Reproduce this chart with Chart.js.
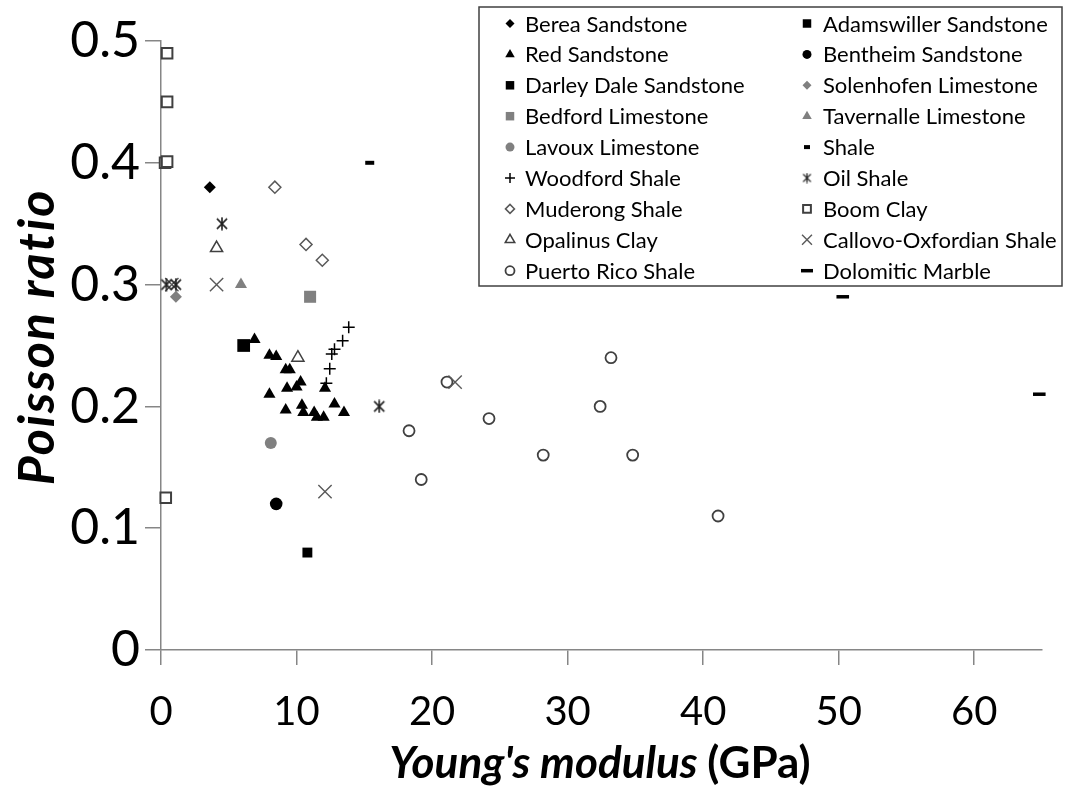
<!DOCTYPE html>
<html>
<head>
<meta charset="utf-8">
<script src="https://cdn.jsdelivr.net/npm/chart.js@4/dist/chart.umd.min.js"></script>
<style>
  html, body { margin: 0; padding: 0; background: #fff; }
  #wrap { width: 1078px; height: 794px; }
</style>
</head>
<body>
<div id="wrap"><canvas id="chart" width="1078" height="794"></canvas></div>
<script>
// Young's modulus (GPa) and Poisson ratio for each rock, as [E, nu] pairs
const bereaSandstone = [[3.6, 0.38]];
const adamswillerSandstone = [[10.8, 0.08]];
const redSandstone = [
  [6.9, 0.255], [8.0, 0.242], [8.5, 0.241], [9.2, 0.230], [9.5, 0.230],
  [8.0, 0.210], [9.3, 0.215], [10.0, 0.216], [10.3, 0.220], [12.1, 0.215],
  [9.2, 0.197], [10.4, 0.201], [10.5, 0.195], [11.3, 0.195], [11.5, 0.191],
  [12.0, 0.191], [12.8, 0.202], [13.5, 0.195]
];
const bentheimSandstone = [[8.5, 0.12]];
const darleyDaleSandstone = [[6.1, 0.25]];
const solenhofenLimestone = [[1.1, 0.29]];
const bedfordLimestone = [[11.0, 0.29]];
const tavernalleLimestone = [[5.9, 0.30]];
const lavouxLimestone = [[8.1, 0.17]];
const shale = [[15.4, 0.40]];
const woodfordShale = [[12.2, 0.219], [12.45, 0.231], [12.6, 0.243], [12.8, 0.247], [13.4, 0.254], [13.85, 0.265]];
const oilShale = [[0.4, 0.30], [1.1, 0.30], [4.5, 0.35], [16.1, 0.20]];
const muderongShale = [[8.4, 0.38], [10.7, 0.333], [11.9, 0.32]];
const boomClay = [[0.45, 0.49], [0.45, 0.45], [0.3, 0.40], [0.45, 0.401], [0.35, 0.125]];
const opalinusClay = [[4.1, 0.33], [10.1, 0.24]];
const callovoOxfordianShale = [[0.8, 0.30], [4.1, 0.30], [12.1, 0.13], [21.7, 0.22]];
const puertoRicoShale = [
  [18.3, 0.18], [19.2, 0.14], [21.1, 0.22], [24.2, 0.19], [28.2, 0.16],
  [32.4, 0.20], [33.2, 0.24], [34.8, 0.16], [41.1, 0.11]
];
const dolomiticMarble = [[50.3, 0.29], [64.8, 0.21]];

const xTicks = [0, 10, 20, 30, 40, 50, 60];
const yTicks = [0, 0.1, 0.2, 0.3, 0.4, 0.5];
const yTickLabels = ['0', '0.1', '0.2', '0.3', '0.4', '0.5'];

// Six-armed asterisk marker drawn onto a small canvas
function asterisk(size, color, lw) {
  const c = document.createElement('canvas');
  c.width = c.height = size;
  const g = c.getContext('2d');
  g.strokeStyle = color;
  g.lineWidth = lw;
  const m = size / 2, r = size / 2 - 0.5, d = r * 0.78;
  g.beginPath();
  g.moveTo(m, m - r); g.lineTo(m, m + r);
  g.moveTo(m - d, m - d); g.lineTo(m + d, m + d);
  g.moveTo(m + d, m - d); g.lineTo(m - d, m + d);
  g.stroke();
  return c;
}

const BLACK = '#000000', GREY = '#808080', DARK = '#404040', MID = '#595959', WHITE = '#ffffff';

// Series in legend order (two columns, filled row by row)
const series = [
  { label: 'Berea Sandstone', data: bereaSandstone, style: 'rectRot', r: 6, fill: BLACK, stroke: BLACK, w: 0, lr: 4.5 },
  { label: 'Adamswiller Sandstone', data: adamswillerSandstone, style: 'rect', r: 7, fill: BLACK, stroke: BLACK, w: 0, lr: 6 },
  { label: 'Red Sandstone', data: redSandstone, style: 'triangle', r: 7, fill: BLACK, stroke: BLACK, w: 0, lr: 5.5 },
  { label: 'Bentheim Sandstone', data: bentheimSandstone, style: 'circle', r: 6.3, fill: BLACK, stroke: BLACK, w: 0, lr: 4.5 },
  { label: 'Darley Dale Sandstone', data: darleyDaleSandstone, style: 'rect', r: 9, fill: BLACK, stroke: BLACK, w: 0, lr: 6 },
  { label: 'Solenhofen Limestone', data: solenhofenLimestone, style: 'rectRot', r: 6, fill: GREY, stroke: GREY, w: 0, lr: 4.5 },
  { label: 'Bedford Limestone', data: bedfordLimestone, style: 'rect', r: 8.5, fill: GREY, stroke: GREY, w: 0, lr: 6 },
  { label: 'Tavernalle Limestone', data: tavernalleLimestone, style: 'triangle', r: 7, fill: GREY, stroke: GREY, w: 0, lr: 5.5 },
  { label: 'Lavoux Limestone', data: lavouxLimestone, style: 'circle', r: 6, fill: GREY, stroke: GREY, w: 0, lr: 4.5 },
  { label: 'Shale', data: shale, style: 'line', r: 4.5, fill: BLACK, stroke: BLACK, w: 4, lr: 3 },
  { label: 'Woodford Shale', data: woodfordShale, style: 'cross', r: 6, fill: BLACK, stroke: BLACK, w: 1.5, lr: 5 },
  { label: 'Oil Shale', data: oilShale, style: asterisk(14, '#202020', 1.6), r: 7, fill: BLACK, stroke: BLACK, w: 1, lr: 5, legendImg: asterisk(11, '#202020', 1.3) },
  { label: 'Muderong Shale', data: muderongShale, style: 'rectRot', r: 6, fill: WHITE, stroke: MID, w: 1.5, lr: 4.5 },
  { label: 'Boom Clay', data: boomClay, style: 'rect', r: 7.5, fill: WHITE, stroke: DARK, w: 2, lr: 5.5 },
  { label: 'Opalinus Clay', data: opalinusClay, style: 'triangle', r: 7, fill: WHITE, stroke: DARK, w: 1.5, lr: 5.5 },
  { label: 'Callovo-Oxfordian Shale', data: callovoOxfordianShale, style: 'crossRot', r: 9.4, fill: MID, stroke: MID, w: 1.4, lr: 7 },
  { label: 'Puerto Rico Shale', data: puertoRicoShale, style: 'circle', r: 5.5, fill: WHITE, stroke: DARK, w: 1.8, lr: 4.5 },
  { label: 'Dolomitic Marble', data: dolomiticMarble, style: 'line', r: 6.3, fill: BLACK, stroke: BLACK, w: 3.5, lr: 6 }
];

const datasets = series.map(s => ({
  label: s.label,
  data: s.data.map(([x, y]) => ({ x, y })),
  pointStyle: s.style,
  pointRadius: s.r,
  pointBackgroundColor: s.fill,
  pointBorderColor: s.stroke,
  pointBorderWidth: s.w,
  showLine: false,
  clip: false
}));

// Boxed two-column key in the upper right
const keyBox = {
  id: 'keyBox',
  afterDraw(chart) {
    const c = chart.ctx;
    c.save();
    c.fillStyle = '#ffffff';
    c.fillRect(479, 7, 583, 279);
    c.strokeStyle = '#404040';
    c.lineWidth = 1.5;
    c.strokeRect(479, 7, 583, 279);
    c.font = '22px Lato';
    c.textBaseline = 'middle';
    c.textAlign = 'left';
    series.forEach((s, i) => {
      const row = Math.floor(i / 2), col = i % 2;
      const y = 23.5 + row * 30.9;
      const mx = col === 0 ? 510 : 807;
      const tx = col === 0 ? 525 : 823;
      c.fillStyle = s.fill;
      c.strokeStyle = s.stroke;
      c.lineWidth = s.w;
      Chart.helpers.drawPoint(c, {
        pointStyle: s.legendImg || s.style,
        radius: s.lr,
        rotation: 0,
        borderWidth: s.w
      }, mx, y);
      c.fillStyle = '#000000';
      c.fillText(s.label, tx, y + 1);
    });
    c.restore();
  }
};

// Axis titles with mixed bold / bold-italic runs
const axisTitles = {
  id: 'axisTitles',
  afterDraw(chart) {
    const c = chart.ctx;
    c.save();
    c.fillStyle = '#000000';
    c.textBaseline = 'alphabetic';
    c.font = 'italic bold 50px Lato';
    c.save();
    c.translate(54, 337);
    c.rotate(-Math.PI / 2);
    c.textAlign = 'center';
    c.letterSpacing = '2px';
    c.fillText('Poisson ratio', 0, 0);
    c.restore();

    const a = "Young's modulus ", b = '(GPa)';
    c.font = 'italic bold 44px Lato';
    const wa = c.measureText(a).width;
    c.font = 'bold 44px Lato';
    const wb = c.measureText(b).width;
    const x0 = 600 - (wa + wb) / 2;
    c.textAlign = 'left';
    c.font = 'italic bold 44px Lato';
    c.fillText(a, x0, 778);
    c.font = 'bold 44px Lato';
    c.fillText(b, x0 + wa, 778);
    c.restore();
  }
};

const axisGrey = '#868686';

new Chart(document.getElementById('chart'), {
  type: 'scatter',
  data: { datasets },
  plugins: [keyBox, axisTitles],
  options: {
    responsive: false,
    animation: false,
    devicePixelRatio: 1,
    events: [],
    layout: { padding: { top: 41, right: 36, left: 0, bottom: 0 } },
    plugins: { legend: { display: false }, tooltip: { enabled: false } },
    scales: {
      x: {
        type: 'linear',
        min: 0,
        max: 65,
        afterBuildTicks: s => { s.ticks = xTicks.map(v => ({ value: v })); },
        afterFit: s => { s.height = 144; },
        grid: { display: true, drawOnChartArea: false, drawTicks: true, tickLength: 15, color: axisGrey, lineWidth: 1.5 },
        border: { display: true, color: axisGrey, width: 1.5 },
        ticks: { font: { family: 'Lato', size: 40 }, color: '#000', padding: 23, maxRotation: 0, autoSkip: false }
      },
      y: {
        type: 'linear',
        min: 0,
        max: 0.5,
        afterBuildTicks: s => { s.ticks = yTicks.map(v => ({ value: v })); },
        afterFit: s => { s.width = 161; },
        grid: { display: true, drawOnChartArea: false, drawTicks: true, tickLength: 16, color: axisGrey, lineWidth: 1.5 },
        border: { display: true, color: axisGrey, width: 1.5 },
        ticks: {
          font: { family: 'Lato', size: 50 },
          color: '#000',
          padding: 5,
          autoSkip: false,
          callback: (v, i) => yTickLabels[i]
        }
      }
    }
  }
});
</script>
</body>
</html>
